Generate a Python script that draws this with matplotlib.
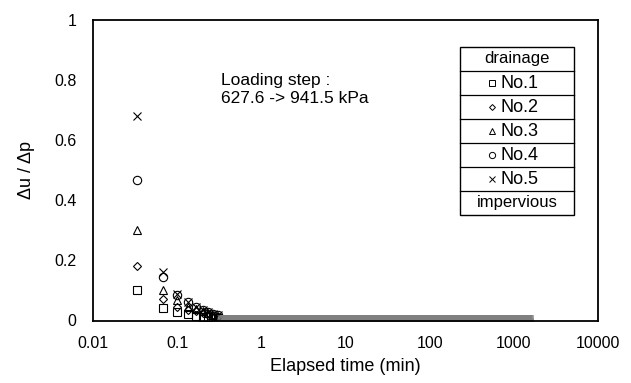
import matplotlib
matplotlib.use("Agg")
import matplotlib.pyplot as plt
import numpy as np

plt.rcParams['font.family'] = ['Liberation Sans', 'DejaVu Sans']

# early readings, every 2 s (min)
t_early = [2/60, 4/60, 6/60, 8/60, 10/60, 12/60, 14/60, 16/60, 18/60]
no1 = [0.103, 0.042, 0.028, 0.020, 0.015, 0.012, 0.010, 0.008, 0.007]
no2 = [0.183, 0.070, 0.045, 0.035, 0.030, 0.024, 0.019, 0.015, 0.012]
no3 = [0.302, 0.102, 0.067, 0.045, 0.038, 0.030, 0.024, 0.019, 0.015]
no4 = [0.467, 0.144, 0.086, 0.061, 0.045, 0.035, 0.028, 0.022, 0.018]
no5 = [0.680, 0.161, 0.088, 0.063, 0.046, 0.036, 0.029, 0.023, 0.018]

# long tail after 0.3 min: readings stay flat near zero
t_tail = np.geomspace(0.33, 1500, 500)
tail_level = {"No.1": 0.004, "No.2": 0.005, "No.3": 0.006, "No.4": 0.006, "No.5": 0.006}

series = [("No.1", no1, "s"), ("No.2", no2, "D"), ("No.3", no3, "^"),
          ("No.4", no4, "o"), ("No.5", no5, "x")]
msize = {"s": 6, "D": 4.5, "^": 5.5, "o": 6, "x": 6}

fig = plt.figure(figsize=(6.31, 3.83), dpi=100)
ax = fig.add_axes([93.3/631, 1-320.5/383, (598-93.3)/631, (320.5-20)/383])

for name, vals, m in series:
    ax.plot(t_early, vals, linestyle="none", marker=m, ms=msize[m],
            mfc="none", mec="black", mew=0.8)
    ax.plot(t_tail, np.full(len(t_tail), tail_level[name]), linestyle="none",
            marker=m, ms=msize[m], mfc="none", mec="0.5", mew=0.4)

ax.set_xscale("log")
ax.set_xlim(0.01, 10000)
ax.set_ylim(0, 1)
ax.set_xticks([0.01, 0.1, 1, 10, 100, 1000, 10000])
ax.set_xticklabels(["0.01", "0.1", "1", "10", "100", "1000", "10000"])
ax.set_yticks([0, 0.2, 0.4, 0.6, 0.8, 1])
ax.set_yticklabels(["0", "0.2", "0.4", "0.6", "0.8", "1"])
ax.minorticks_off()
ax.tick_params(axis="x", length=0, labelsize=11.5, pad=11)
ax.tick_params(axis="y", length=0, labelsize=11.5, pad=12)
for s in ax.spines.values():
    s.set_linewidth(1.3)

ax.set_xlabel("Elapsed time (min)", fontsize=13, labelpad=5)
ax.set_ylabel("Δu / Δp", fontsize=13, labelpad=14)

ax.text(0.253, 0.769, "Loading step :\n627.6 -> 941.5 kPa", transform=ax.transAxes,
        fontsize=12.5, va="center", ha="left", linespacing=1.2)

# table-style legend
rows = ["drainage", "No.1", "No.2", "No.3", "No.4", "No.5", "impervious"]
marks = [None, "s", "D", "^", "o", "x", None]
x0, x1 = (460-93.3)/504.7, (574-93.3)/504.7
y_top, y_bot = (320.5-47)/300.5, (320.5-215)/300.5
h = (y_top - y_bot) / len(rows)
ax.add_patch(plt.Rectangle((x0, y_bot), x1-x0, y_top-y_bot, transform=ax.transAxes,
                           fill=False, lw=1.0, ec="black"))
for i, (r, m) in enumerate(zip(rows, marks)):
    yc = y_top - (i+0.5)*h
    if i > 0:
        ax.plot([x0, x1], [y_top - i*h]*2, transform=ax.transAxes, color="black", lw=0.9)
    xm = (x0+x1)/2
    if m is None:
        ax.text(xm, yc, r, transform=ax.transAxes, ha="center", va="center", fontsize=12)
    else:
        ax.plot([xm-0.05], [yc], transform=ax.transAxes, marker=m, ms=msize[m]-1.5,
                mfc="none", mec="black", mew=0.7, linestyle="none")
        ax.text(xm-0.033, yc, r, transform=ax.transAxes, ha="left", va="center", fontsize=13)

fig.savefig("out.png", dpi=100)
